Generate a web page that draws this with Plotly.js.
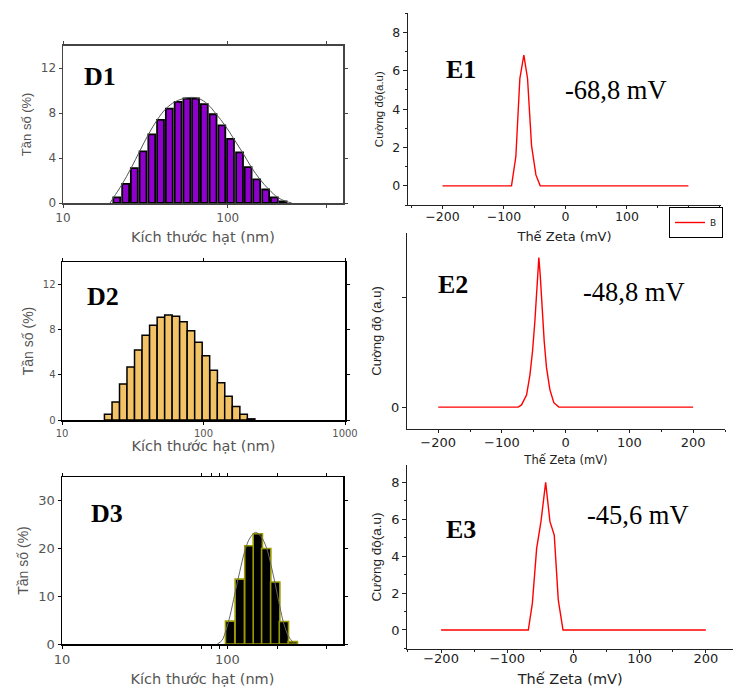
<!DOCTYPE html>
<html><head><meta charset="utf-8">
<script src="https://cdn.plot.ly/plotly-3.0.1.min.js"></script>
<style>html,body{margin:0;padding:0;background:#fff}#chart{width:733px;height:688px}</style>
</head><body><div id="chart"></div><script>
// ---------- data ----------
const sizesD = [21.2, 24.0, 27.1, 30.6, 34.6, 39.1, 44.2, 50.0, 56.5, 63.8, 72.1, 81.5, 92.1, 104, 118, 133, 150, 170, 192, 217];
const freqD1 = [0.5, 1.7, 3.1, 4.6, 6.1, 7.4, 8.4, 9.0, 9.3, 9.3, 8.8, 7.9, 6.9, 5.7, 4.5, 3.2, 2.1, 1.2, 0.5, 0.15];
const freqD2 = [0.5, 1.6, 3.2, 4.7, 6.2, 7.5, 8.4, 9.1, 9.3, 9.2, 8.7, 7.9, 6.9, 5.7, 4.4, 3.3, 2.1, 1.2, 0.5, 0.1];
const fitD1x = [19.3, 20.3, 22.9, 25.9, 29.2, 33.0, 37.3, 42.2, 47.7, 54, 60, 66.8, 75.5, 85.3, 96.4, 109, 123, 139, 157, 178, 201, 225, 245];
const fitD1y = [0, 0.5, 1.7, 3.1, 4.6, 6.1, 7.4, 8.4, 9.0, 9.3, 9.4, 9.3, 8.8, 7.9, 6.9, 5.7, 4.5, 3.2, 2.1, 1.2, 0.5, 0.15, 0];
const sizesD3 = [104, 119, 136, 153, 172, 195, 220, 249];
const freqD3 = [4.8, 13.6, 20.6, 23.1, 20.0, 13.0, 4.7, 0.5];
const fitD3x = [87, 93, 98, 104, 111, 119, 127, 136, 148, 160, 172, 184, 195, 208, 220, 235, 250, 261];
const fitD3y = [0, 0.8, 2.8, 6.0, 10.5, 15.2, 19.2, 22.0, 23.4, 22.5, 20.3, 16.5, 12.5, 7.8, 4.2, 1.6, 0.4, 0];
const sizeTickVals = [10, 100, 1000];
const sizeTickText = ['10', '100', '1000'];

const zetaE1 = [-200, -87.7, -80.6, -74.1, -67.6, -61.6, -55.1, -48.0, -41.0, 200];
const intE1  = [0, 0, 1.53, 5.6, 6.82, 5.6, 2.1, 0.57, 0, 0];
const zetaE2 = [-200, -74.5, -69.3, -61.4, -56.2, -52.0, -48.4, -45.2, -42.1, -40.0, -36.9, -33.7, -30.1, -24.8, -18.6, -10.7, 200];
const intE2  = [0, 0, 0.02, 0.11, 0.29, 0.51, 0.78, 1.09, 1.365, 1.21, 0.90, 0.60, 0.36, 0.16, 0.04, 0, 0];
const zetaE3 = [-200, -68.2, -62.1, -55.6, -49.1, -42.0, -35.5, -29.0, -22.9, -15.8, 200];
const intE3  = [0, 0, 1.44, 4.42, 5.87, 8.0, 5.87, 5.14, 1.62, 0, 0];

const panelLabels = ['D1', 'D2', 'D3', 'E1', 'E2', 'E3'];
const zetaLabels = ['-68,8 mV', '-48,8 mV', '-45,6 mV'];

// ---------- layout helpers ----------
const W = 733, H = 688;
const dx = (a, b) => [a / W, b / W];
const dy = (top, bot) => [1 - bot / H, 1 - top / H];
const lg = v => Math.log10(v);
const SANS = 'DejaVu Sans';
const ARIAL = 'Liberation Sans';
const NARROW = 'Liberation Sans Narrow, Liberation Sans';
const SERIF = 'Liberation Serif';

function dX(domain, range, anchor, tickSize, titleSize, minorVals, lineColor, standoff) {
  return {
    domain, range, anchor, type: 'linear',
    tickmode: 'array', tickvals: sizeTickVals.map(lg), ticktext: sizeTickText,
    ticks: 'outside', ticklen: 3, tickcolor: lineColor,
    minor: {tickmode: 'array', tickvals: minorVals.map(lg), ticks: 'outside', ticklen: 3, tickcolor: lineColor},
    showline: true, mirror: 'ticks', linecolor: lineColor, linewidth: 1.5,
    showgrid: false, zeroline: false,
    tickfont: {family: SANS, size: tickSize, color: '#555'},
    title: {text: 'Kích thước hạt (nm)', font: {family: SANS, size: titleSize, color: '#555'}, standoff}
  };
}
function dY(domain, range, anchor, tickvals, tickSize, titleSize, lineColor) {
  return {
    domain, range, anchor, tickmode: 'array', tickvals,
    ticks: 'outside', ticklen: 3, tickcolor: lineColor,
    showline: true, mirror: 'ticks', linecolor: lineColor, linewidth: 1.5,
    showgrid: false, zeroline: false,
    tickfont: {family: SANS, size: tickSize, color: '#555'},
    title: {text: 'Tần số (%)', font: {family: ARIAL, size: titleSize, color: '#555'}, standoff: 6}
  };
}
function eX(domain, range, anchor, tickSize, titleText, titleSize, standoff, labelShift) {
  return {
    domain, range, anchor, tickmode: 'linear', tick0: 0, dtick: 100,
    ticks: 'outside', ticklen: 3, tickcolor: '#222', ticklabelstandoff: labelShift,
    minor: {tick0: 0, dtick: 50, ticks: 'outside', ticklen: 2, tickcolor: '#222'},
    showline: true, linecolor: '#222', linewidth: 1.2,
    showgrid: false, zeroline: false,
    tickfont: {family: SANS, size: tickSize, color: '#222'},
    title: {text: titleText, font: {family: SANS, size: titleSize, color: '#222'}, standoff}
  };
}
function eY(domain, range, anchor, extra, titleText, titleSize, tickSize) {
  return Object.assign({
    domain, range, anchor,
    ticks: 'outside', ticklen: 4, tickcolor: '#222',
    showline: true, linecolor: '#222', linewidth: 1.2,
    showgrid: false, zeroline: false,
    tickfont: {family: SANS, size: tickSize, color: '#222'},
    title: {text: titleText, font: {family: NARROW, size: titleSize, color: '#222'}, standoff: 6}
  }, extra);
}

// ---------- traces ----------
const traces = [
  {type: 'bar', x: sizesD.map(lg), y: freqD1, width: 0.042, xaxis: 'x', yaxis: 'y',
   marker: {color: '#9000CC', line: {color: '#000', width: 1.8}}, showlegend: false},
  {type: 'scatter', mode: 'lines', x: fitD1x.map(lg), y: fitD1y, xaxis: 'x', yaxis: 'y',
   line: {color: '#555', width: 1, shape: 'spline'}, showlegend: false},
  {type: 'bar', x: sizesD.map(lg), y: freqD2, width: 0.053, xaxis: 'x2', yaxis: 'y2',
   marker: {color: '#F2C366', line: {color: '#000', width: 1.5}}, showlegend: false},
  {type: 'bar', x: sizesD3.map(lg), y: freqD3, width: 0.056, xaxis: 'x3', yaxis: 'y3',
   marker: {color: '#000', line: {color: '#9a9a00', width: 1.6}}, showlegend: false},
  {type: 'scatter', mode: 'lines', x: fitD3x.map(lg), y: fitD3y, xaxis: 'x3', yaxis: 'y3',
   line: {color: '#666', width: 1, shape: 'spline'}, showlegend: false},
  {type: 'scatter', mode: 'lines', name: 'B', x: zetaE1, y: intE1, xaxis: 'x4', yaxis: 'y4',
   line: {color: '#ff0000', width: 1.4}, showlegend: true},
  {type: 'scatter', mode: 'lines', x: zetaE2, y: intE2, xaxis: 'x5', yaxis: 'y5',
   line: {color: '#ff0000', width: 1.4}, showlegend: false},
  {type: 'scatter', mode: 'lines', x: zetaE3, y: intE3, xaxis: 'x6', yaxis: 'y6',
   line: {color: '#ff0000', width: 1.4}, showlegend: false}
];

// ---------- annotations ----------
const labelPos = [[100, 77], [103, 296], [107, 513], [461, 70], [453, 284], [461, 529]];
const zetaPos = [[616, 90], [634, 292], [638, 515]];
const annotations = [];
panelLabels.forEach((t, i) => annotations.push({
  text: t, xref: 'paper', yref: 'paper', x: labelPos[i][0] / W, y: 1 - labelPos[i][1] / H,
  xanchor: 'center', yanchor: 'middle', showarrow: false,
  font: {family: SERIF, size: 26, color: '#000', weight: 'bold'}
}));
zetaLabels.forEach((t, i) => annotations.push({
  text: t, xref: 'paper', yref: 'paper', x: zetaPos[i][0] / W, y: 1 - zetaPos[i][1] / H,
  xanchor: 'center', yanchor: 'middle', showarrow: false,
  font: {family: SERIF, size: 26.5, color: '#000'}
}));

const layout = {
  width: W, height: H, margin: {l: 0, r: 0, t: 0, b: 0},
  paper_bgcolor: '#fff', plot_bgcolor: '#fff', bargap: 0,
  xaxis:  dX(dx(63, 343), [1, 2.7], 'y', 12, 14.5, [400], '#444', 8),
  yaxis:  dY(dy(45.7, 203), [0, 14], 'x', [0, 4, 8, 12], 12, 13, '#444'),
  xaxis2: dX(dx(62, 345), [1, 3], 'y2', 10, 14.5, [], '#000', 1),
  yaxis2: dY(dy(262, 420), [0, 14], 'x2', [0, 4, 8, 12], 10, 14, '#000'),
  xaxis3: dX(dx(62, 343), [1, 2.7], 'y3', 13, 14.5, [70, 80, 90, 200, 400], '#000', 8),
  yaxis3: dY(dy(477, 644), [0, 35], 'x3', [0, 10, 20, 30], 13, 14, '#000'),
  xaxis4: eX(dx(408, 721), [-256, 253], 'y4', 12.5, 'Thế Zeta (mV)', 13, 8, -3),
  yaxis4: eY(dy(13.3, 205), [-1, 9], 'x4', {tickmode: 'linear', tick0: 0, dtick: 2,
           minor: {tick0: 0, dtick: 1, ticks: 'outside', ticklen: 2, tickcolor: '#222'}}, 'Cường độ(a.u)', 11.5, 12.5),
  xaxis5: eX(dx(407, 725), [-249, 250], 'y5', 13, 'Thế Zeta (mV)', 11.5, 7, -2),
  yaxis5: eY(dy(233, 429), [-0.2, 1.59], 'x5', {tickmode: 'array', tickvals: [0, 1], ticktext: ['0', '']}, 'Cường độ (a.u)', 13, 13),
  xaxis6: eX(dx(407.3, 733), [-251, 241], 'y6', 13, 'Thế Zeta (mV)', 14.5, 9, -6),
  yaxis6: eY(dy(465, 649), [-1.03, 8.94], 'x6', {tickmode: 'linear', tick0: 0, dtick: 2,
           minor: {tick0: 0, dtick: 1, ticks: 'outside', ticklen: 2, tickcolor: '#222'}}, 'Cường độ(a.u)', 13.5, 13),
  showlegend: true,
  legend: {x: 669 / W, y: 1 - 207 / H, xanchor: 'left', yanchor: 'top',
           bordercolor: '#000', borderwidth: 1, bgcolor: '#fff',
           font: {family: SANS, size: 9, color: '#222'}, itemwidth: 30, tracegroupgap: 0},
  annotations
};

Plotly.newPlot('chart', traces, layout, {staticPlot: true, displayModeBar: false});
</script></body></html>
